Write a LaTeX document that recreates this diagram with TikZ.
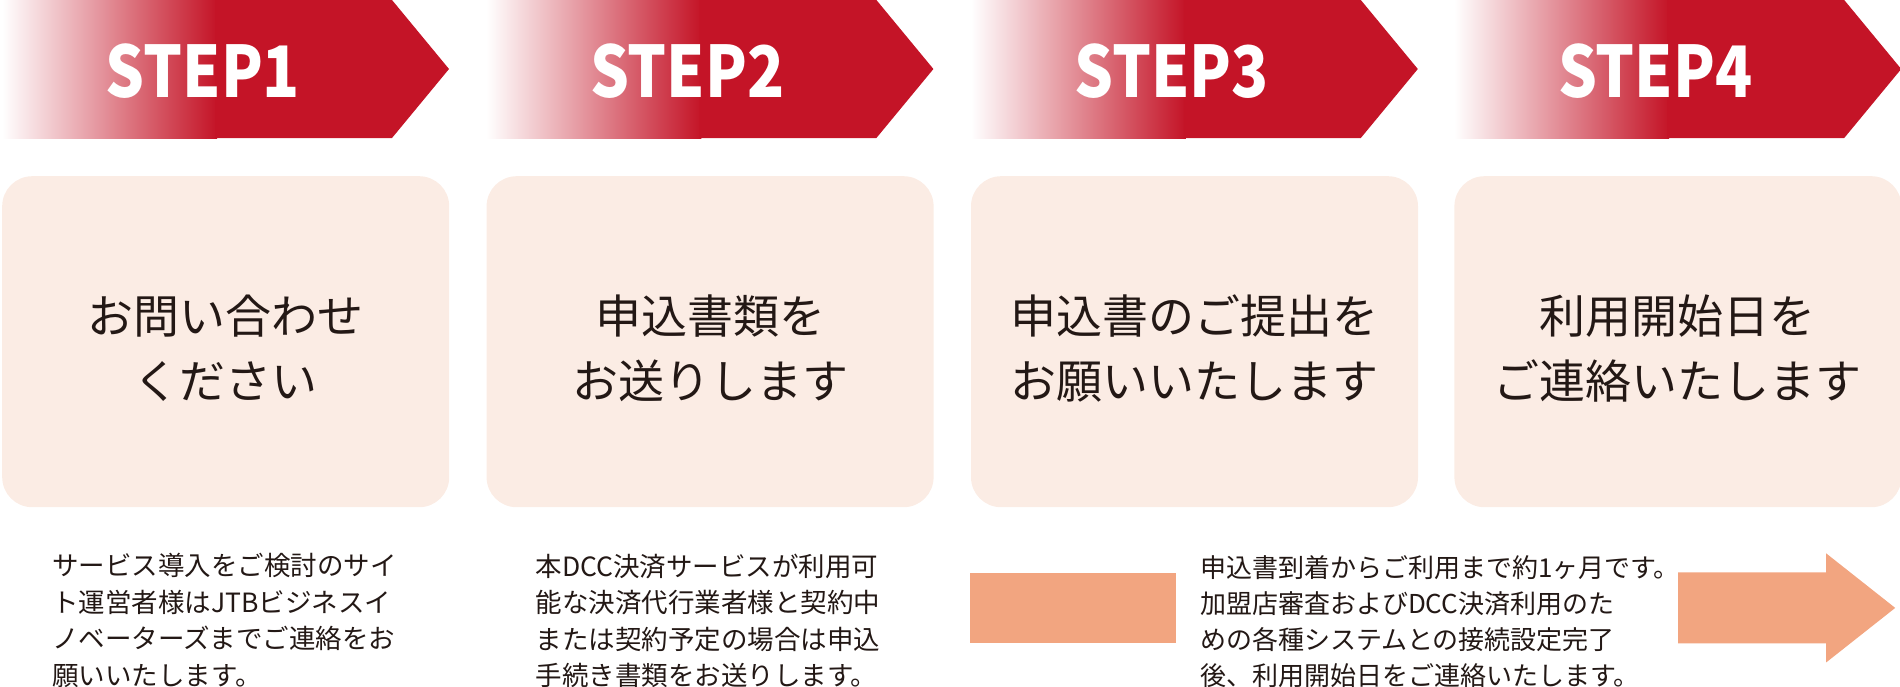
\documentclass[tikz,border=0pt]{standalone}
\usepackage{fontspec}
\setmainfont{Noto Sans CJK JP}
\newfontfamily\stepfont{Noto Sans CJK JP}[FakeStretch=0.86]
\usepackage{xcolor}
\usepackage{tikz}
\usetikzlibrary{positioning}

\definecolor{stepred}{RGB}{196,20,39}
\definecolor{boxfill}{RGB}{251,236,228}
\definecolor{ink}{RGB}{35,24,21}
\definecolor{barorange}{RGB}{242,165,128}

\begin{document}
\begin{tikzpicture}[
    x=1pt, y=-1pt,
    banner/.style={fill=stepred},
    fadebar/.style={left color=white, right color=stepred},
    steplabel/.style={text=white, inner sep=0pt, font=\stepfont\bfseries\fontsize{71}{71}\selectfont},
    msgbox/.style={fill=boxfill, rounded corners=30pt, minimum width=447pt, minimum height=331pt,
                   inner sep=0pt, align=center, text=ink, text height=117pt,
                   font=\fontsize{46}{65}\selectfont},
    note/.style={anchor=north west, inner sep=0pt, align=left, text=ink,
                 font=\fontsize{26.5}{36.5}\selectfont},
    period/.style={fill=barorange},
]
\useasboundingbox (0,0) rectangle (1900,686);

% === Boxes ===
\node[msgbox, anchor=north west] (b1) at (2,176) {お問い合わせ\\ください};
\node[msgbox, right=37pt of b1] (b2) {申込書類を\\お送りします};
\node[msgbox, right=37pt of b2] (b3) {申込書のご提出を\\お願いいたします};
\node[msgbox, right=36pt of b3] (b4) {利用開始日を\\ご連絡いたします};

% === Step banners ===
\coordinate (t1) at ([yshift=176pt]b1.north west);
\coordinate (t2) at ([yshift=176pt]b2.north west);
\coordinate (t3) at ([yshift=176pt]b3.north west);
\coordinate (t4) at ([yshift=176pt]b4.north west);

\shade[fadebar] (t1) rectangle ++(215,138);
\fill[banner] ([xshift=213pt]t1) -- ++(177,0) -- ++(57,69) -- ++(-57,69) -- ++(-177,0) -- cycle;
\node[steplabel] (h1) at ([shift={(201,71)}]t1) {STEP1};

\shade[fadebar] (t2) rectangle ++(215,138);
\fill[banner] ([xshift=213pt]t2) -- ++(177,0) -- ++(57,69) -- ++(-57,69) -- ++(-177,0) -- cycle;
\node[steplabel] (h2) at ([shift={(201,71)}]t2) {STEP2};

\shade[fadebar] (t3) rectangle ++(215,138);
\fill[banner] ([xshift=213pt]t3) -- ++(177,0) -- ++(57,69) -- ++(-57,69) -- ++(-177,0) -- cycle;
\node[steplabel] (h3) at ([shift={(201,71)}]t3) {STEP3};

\shade[fadebar] (t4) rectangle ++(215,138);
\fill[banner] ([xshift=213pt]t4) -- ++(177,0) -- ++(57,69) -- ++(-57,69) -- ++(-177,0) -- cycle;
\node[steplabel] (h4) at ([shift={(201,71)}]t4) {STEP4};

% === Notes ===
\node[note] (d1) at ([shift={(50,46)}]b1.south west)
    {サービス導入をご検討のサイ\\ト運営者様はJTBビジネスイ\\ノベーターズまでご連絡をお\\願いいたします。};
\node[note] (d2) at ([shift={(49,46)}]b2.south west)
    {本DCC決済サービスが利用可\\能な決済代行業者様と契約中\\または契約予定の場合は申込\\手続き書類をお送りします。};
\node[note, font=\fontsize{26}{36}\selectfont] (d3) at ([shift={(229,48)}]b3.south west)
    {申込書到着からご利用まで約1ヶ月です。\\加盟店審査およびDCC決済利用のた\\めの各種システムとの接続設定完了\\後、利用開始日をご連絡いたします。};

% === Period bar and arrow ===
\node[period, anchor=north west, inner sep=0pt, minimum width=206pt, minimum height=70pt]
    (bar) at ([shift={(-1,65)}]b3.south west) {};
\coordinate (a0) at ([shift={(224,65)}]b4.south west);
\fill[period] (a0) -- ++(148,0) -- ++(0,-19) -- ++(69,54.5) -- ++(-69,54.5) -- ++(0,-19) -- ++(-148,0) -- cycle;

\end{tikzpicture}
\end{document}
